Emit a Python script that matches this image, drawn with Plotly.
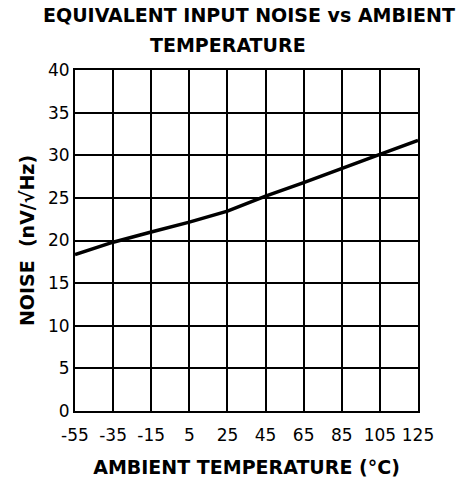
import plotly.graph_objects as go

temps = [-55, -35, -15, 5, 25, 45, 65, 85, 105, 125]
noise = [18.35, 19.8, 21.0, 22.15, 23.45, 25.2, 26.8, 28.5, 30.1, 31.75]
x_ticks = [-55, -35, -15, 5, 25, 45, 65, 85, 105, 125]
y_ticks = [0, 5, 10, 15, 20, 25, 30, 35, 40]

FONT = "DejaVu Sans"

fig = go.Figure()
fig.add_trace(go.Scatter(x=temps, y=noise, mode="lines",
                         line=dict(color="black", width=3.5), showlegend=False))

fig.update_layout(
    width=459, height=483,
    margin=dict(l=75, r=41, t=70, b=72, autoexpand=False),
    paper_bgcolor="white", plot_bgcolor="white",
    font=dict(family=FONT, color="black"),
    xaxis=dict(range=[-55, 125], tickvals=x_ticks, ticktext=[str(v) for v in x_ticks],
               showgrid=True, gridcolor="black", gridwidth=2,
               showline=True, linecolor="black", linewidth=2, mirror=True,
               zeroline=False, ticks="", tickfont=dict(size=17, family=FONT),
               ticklabelstandoff=8, automargin=False,
               title=dict(text="<b>AMBIENT TEMPERATURE (°C)</b>", font=dict(size=19, family=FONT), standoff=16)),
    yaxis=dict(range=[0, 40], tickvals=y_ticks,
               showgrid=True, gridcolor="black", gridwidth=2,
               showline=True, linecolor="black", linewidth=2, mirror=True,
               zeroline=False, ticks="", tickfont=dict(size=17, family=FONT),
               automargin=False,
               title=dict(text="<b>NOISE  (nV/√Hz)</b>", font=dict(size=19, family=FONT), standoff=8)),
    annotations=[
        dict(text="<b>EQUIVALENT INPUT NOISE vs AMBIENT</b>", xref="paper", yref="paper",
             x=0.507, y=1.161, showarrow=False, font=dict(size=19, family=FONT), xanchor="center", yanchor="middle"),
        dict(text="<b>TEMPERATURE</b>", xref="paper", yref="paper",
             x=0.446, y=1.073, showarrow=False, font=dict(size=19, family=FONT), xanchor="center", yanchor="middle"),
    ],
)

fig.write_html("out.html", config={"displayModeBar": False},
               post_script="document.body.style.margin='0';")
